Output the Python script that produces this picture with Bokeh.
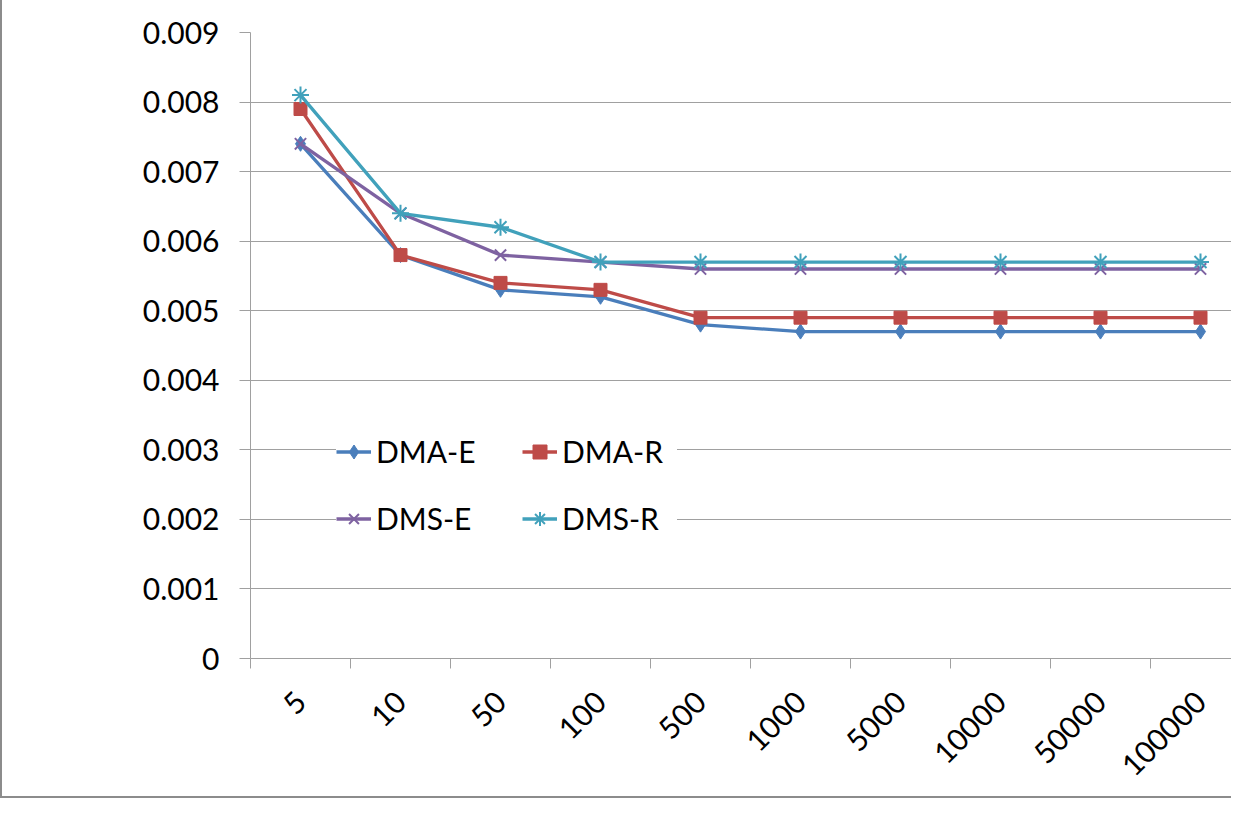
import math
from bokeh.plotting import figure
from bokeh.models import Range1d, FixedTicker, NumeralTickFormatter, Legend, LegendItem
from bokeh.embed import file_html
from bokeh.resources import INLINE
from bokeh.core.properties import value

categories = ["5", "10", "50", "100", "500", "1000", "5000", "10000", "50000", "100000"]
dma_e = [0.0074, 0.0058, 0.0053, 0.0052, 0.0048, 0.0047, 0.0047, 0.0047, 0.0047, 0.0047]
dma_r = [0.0079, 0.0058, 0.0054, 0.0053, 0.0049, 0.0049, 0.0049, 0.0049, 0.0049, 0.0049]
dms_e = [0.0074, 0.0064, 0.0058, 0.0057, 0.0056, 0.0056, 0.0056, 0.0056, 0.0056, 0.0056]
dms_r = [0.0081, 0.0064, 0.0062, 0.0057, 0.0057, 0.0057, 0.0057, 0.0057, 0.0057, 0.0057]
y_ticks = [0, 0.001, 0.002, 0.003, 0.004, 0.005, 0.006, 0.007, 0.008, 0.009]

FONT = "Lato"
GRID = "#a0a0a0"

xs = list(range(1, len(categories) + 1))
bounds = [i + 0.5 for i in range(0, len(categories) + 1)]

p = figure(width=1231, height=798, output_backend="svg", toolbar_location=None,
           x_range=Range1d(0.5, 10.33), y_range=Range1d(0, 0.009),
           min_border_left=248, min_border_right=0, min_border_top=32, min_border_bottom=140)
p.outline_line_color = None
p.background_fill_color = "white"
p.border_fill_color = "white"
p.styles = {"border-left": "2px solid #8c8c8c", "border-bottom": "2px solid #8c8c8c"}

# x axis
p.xaxis.ticker = FixedTicker(ticks=xs, minor_ticks=bounds)
p.xaxis.major_label_overrides = {x: c for x, c in zip(xs, categories)}
p.xaxis.major_tick_out = 0
p.xaxis.major_tick_in = 0
p.xaxis.minor_tick_out = 10
p.xaxis.minor_tick_in = 0
p.xaxis.minor_tick_line_color = GRID
p.xaxis.axis_line_color = GRID
p.xaxis.major_label_orientation = math.pi / 4
p.xaxis.major_label_standoff = 28
p.xaxis.major_label_text_font = FONT
p.xaxis.major_label_text_font_size = "30px"
p.xaxis.major_label_text_color = "black"
p.xgrid.visible = False

# y axis
p.yaxis.ticker = FixedTicker(ticks=y_ticks)
p.yaxis.formatter = NumeralTickFormatter(format="0.[000]")
p.yaxis.major_tick_out = 11
p.yaxis.major_tick_in = 0
p.yaxis.major_tick_line_color = GRID
p.yaxis.minor_tick_line_color = None
p.yaxis.axis_line_color = GRID
p.yaxis.major_label_standoff = 20
p.yaxis.major_label_text_font = FONT
p.yaxis.major_label_text_font_size = "30px"
p.yaxis.major_label_text_color = "black"
p.ygrid.grid_line_color = GRID
p.ygrid.grid_line_width = 1

series = [
    ("DMA-E", dma_e, "#4A7EBB", "diamond", 15),
    ("DMA-R", dma_r, "#BE4B48", "square", 13),
    ("DMS-E", dms_e, "#7E62A1", "x", 16),
    ("DMS-R", dms_r, "#41A1BB", "asterisk", 17),
]

items = []
for name, ys, color, marker, size in series:
    lr = p.line(xs, ys, line_color=color, line_width=3.3, line_join="round")
    if marker in ("x", "asterisk"):
        sr = p.scatter(xs, ys, marker=marker, size=size, line_color=color, line_width=2)
    else:
        sr = p.scatter(xs, ys, marker=marker, size=size, fill_color=color, line_color=color)
    items.append(LegendItem(label=name, renderers=[lr, sr]))

legend = Legend(items=items, location=(86, 122), orientation="horizontal", ncols=2,
                glyph_width=35, glyph_height=35, label_height=35, label_width=115,
                label_standoff=5, spacing=31, padding=7, margin=0,
                background_fill_color="white", background_fill_alpha=1.0,
                border_line_color=None,
                label_text_font=FONT, label_text_font_size="30px", label_text_color="black")
p.add_layout(legend)

open("out.html", "w").write(file_html(p, INLINE))
